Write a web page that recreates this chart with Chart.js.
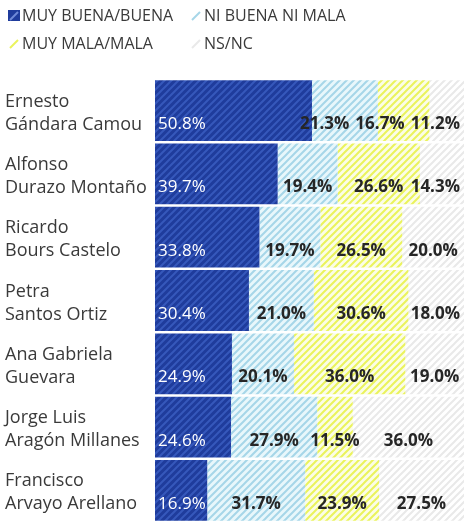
<!DOCTYPE html>
<html>
<head>
<meta charset="utf-8">
<script src="https://cdn.jsdelivr.net/npm/chart.js@4"></script>
<style>
  body { margin: 0; background: #fff; }
  #wrap { position: relative; width: 464px; height: 524px; }
  #legend { position: absolute; left: 0; top: 0; width: 464px; height: 60px;
            font: 16px 'Open Sans', sans-serif; color: #3a3a3a; }
  .item { position: absolute; display: flex; align-items: center; white-space: nowrap; height: 20px; }
  .item canvas { margin-right: 2px; }
</style>
</head>
<body>
<div id="wrap">
  <canvas id="chart" width="464" height="524"></canvas>
  <div id="legend"></div>
</div>
<script>
// Candidatos (dos líneas por etiqueta)
const candidates = [
    ['Ernesto', 'Gándara Camou'],
    ['Alfonso', 'Durazo Montaño'],
    ['Ricardo', 'Bours Castelo'],
    ['Petra', 'Santos Ortiz'],
    ['Ana Gabriela', 'Guevara'],
    ['Jorge Luis', 'Aragón Millanes'],
    ['Francisco', 'Arvayo Arellano']
];

// Series (%)
const seriesNames = ['MUY BUENA/BUENA', 'NI BUENA NI MALA', 'MUY MALA/MALA', 'NS/NC'];
const muyBuena = [50.8, 39.7, 33.8, 30.4, 24.9, 24.6, 16.9];
const niBuena  = [21.3, 19.4, 19.7, 21.0, 20.1, 27.9, 31.7];
const muyMala  = [16.7, 26.6, 26.5, 30.6, 36.0, 11.5, 23.9];
const nsnc     = [11.2, 14.3, 20.0, 18.0, 19.0, 36.0, 27.5];
const series = [muyBuena, niBuena, muyMala, nsnc];

const canvas = document.getElementById('chart');
const mainCtx = canvas.getContext('2d');

// Rayado diagonal para cada serie
const makeTile = (bg, stripe) => {
    const c = document.createElement('canvas');
    c.width = 7; c.height = 7;
    const g = c.getContext('2d');
    g.fillStyle = bg;
    g.fillRect(0, 0, 7, 7);
    g.strokeStyle = stripe;
    g.lineWidth = 2;
    g.beginPath();
    g.moveTo(-1, 8); g.lineTo(8, -1);
    g.moveTo(-1, 1); g.lineTo(1, -1);
    g.moveTo(6, 8); g.lineTo(8, 6);
    g.stroke();
    return c;
};

const stripeColors = ['#3658bb', '#a6d6e8', '#eaf35c', '#e9e9e9'];
const tiles = [
    makeTile('#1f3c9c', stripeColors[0]),
    makeTile('#e8f7fb', stripeColors[1]),
    makeTile('#fbfde6', stripeColors[2]),
    makeTile('#ffffff', stripeColors[3])
];
const patterns = tiles.map(t => mainCtx.createPattern(t, 'repeat'));

// Leyenda en HTML (dos columnas)
const legendPos = [[8, 5], [190, 5], [8, 33], [190, 33]];
const legendEl = document.getElementById('legend');
seriesNames.forEach((name, i) => {
    const item = document.createElement('div');
    item.className = 'item';
    item.style.left = legendPos[i][0] + 'px';
    item.style.top = legendPos[i][1] + 'px';
    const sw = document.createElement('canvas');
    sw.width = 12; sw.height = 12;
    const sg = sw.getContext('2d');
    if (i === 0) {
        sg.fillStyle = '#1f3c9c';
        sg.fillRect(0, 1, 12, 11);
        sg.strokeStyle = '#6f8ad8';
    } else {
        sg.strokeStyle = stripeColors[i];
    }
    sg.lineWidth = 2;
    sg.beginPath();
    sg.moveTo(2, 11); sg.lineTo(10, 3);
    sg.stroke();
    const span = document.createElement('span');
    span.textContent = name;
    item.appendChild(sw);
    item.appendChild(span);
    legendEl.appendChild(item);
});

const fmt = v => v.toFixed(1) + '%';

// Nombres y etiquetas de valor
const barText = {
    id: 'barText',
    afterDatasetsDraw(chart) {
        const { ctx, chartArea, scales } = chart;
        const metas = series.map((s, i) => chart.getDatasetMeta(i));
        ctx.save();
        ctx.textBaseline = 'alphabetic';
        ctx.textAlign = 'left';
        candidates.forEach((c, i) => {
            const yc = scales.y.getPixelForValue(i);

            ctx.font = "18px 'Open Sans'";
            ctx.fillStyle = '#3a3a3a';
            ctx.fillText(c[0], 5, yc - 4);
            ctx.fillText(c[1], 5, yc + 19);

            const bars = metas.map(m => m.data[i]);
            const y = yc + 18.5;

            ctx.font = "17px 'Open Sans'";
            ctx.fillStyle = '#ffffff';
            ctx.fillText(fmt(series[0][i]), bars[0].base + 3, y);

            ctx.font = "bold 17px 'Open Sans'";
            const items = bars.slice(1).map((b, k) => {
                const text = fmt(series[k + 1][i]);
                const w = ctx.measureText(text).width;
                return { text, w, left: (b.base + b.x) / 2 - w / 2 };
            });
            let limit = chartArea.right - 4;
            for (let k = items.length - 1; k >= 0; k--) {
                if (items[k].left + items[k].w > limit) items[k].left = limit - items[k].w;
                limit = items[k].left - 6;
            }
            ctx.fillStyle = '#262626';
            items.forEach(it => ctx.fillText(it.text, it.left, y));
        });
        ctx.restore();
    }
};

new Chart(mainCtx, {
    type: 'bar',
    data: {
        labels: candidates.map(c => c.join(' ')),
        datasets: series.map((s, i) => ({
            label: seriesNames[i],
            data: s,
            backgroundColor: patterns[i],
            borderWidth: 0,
            barPercentage: 0.96,
            categoryPercentage: 1
        }))
    },
    options: {
        indexAxis: 'y',
        responsive: false,
        animation: false,
        layout: { padding: { top: 79, bottom: 2, left: 155, right: 0 } },
        plugins: {
            legend: { display: false },
            tooltip: { enabled: false }
        },
        scales: {
            x: { stacked: true, min: 0, max: 100, display: false },
            y: { stacked: true, display: false }
        }
    },
    plugins: [barText]
});
</script>
</body>
</html>
